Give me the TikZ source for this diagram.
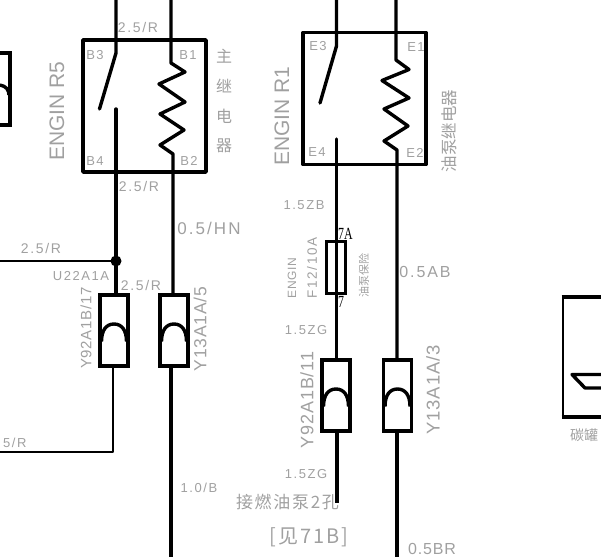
\documentclass[tikz,border=0pt]{standalone}
\usepackage{fontspec}
\setmainfont{Liberation Sans}
\newfontfamily\lblf[LetterSpace=12]{Liberation Sans}
\newfontfamily\lblg[LetterSpace=5]{Liberation Sans}
\newfontfamily\lblh{Liberation Sans}
\newfontfamily\cjkf{Noto Sans CJK SC}
\newfontfamily\cjks[LetterSpace=10]{Noto Sans CJK SC}
\newfontfamily\serf{Liberation Serif}
\definecolor{lbl}{HTML}{A0A0A0}
\tikzset{
  wire/.style={line width=3.4pt,black},
  thinwire/.style={line width=2.4pt,black},
  relaybox/.style={draw=black,line width=3.8pt,inner sep=0pt,outer sep=0pt,minimum width=123pt,minimum height=132pt,line join=round},
  connbox/.style={draw=black,line width=3.4pt,inner sep=0pt,outer sep=0pt,minimum width=28pt,minimum height=71pt},
  fusebox/.style={draw=black,line width=3pt,inner sep=0pt,outer sep=0pt,minimum width=19pt,minimum height=52pt},
  txt/.style={inner sep=0pt,outer sep=0pt,text=lbl,font=\lblf\fontsize{#1}{#1}\selectfont},
  txtm/.style={inner sep=0pt,outer sep=0pt,text=lbl,font=\lblg\fontsize{#1}{#1}\selectfont},
  txtn/.style={inner sep=0pt,outer sep=0pt,text=lbl,font=\lblh\fontsize{#1}{#1}\selectfont},
  cjk/.style={inner sep=0pt,outer sep=0pt,text=lbl,font=\cjkf\fontsize{#1}{#1}\selectfont},
  cjksp/.style={inner sep=0pt,outer sep=0pt,text=lbl,font=\cjks\fontsize{#1}{#1}\selectfont},
  blk/.style={inner sep=0pt,outer sep=0pt,text=black,xscale=.7,font=\serf\fontsize{#1}{#1}\selectfont},
}
\newcommand{\plugshape}[1]{%
  \begin{scope}[shift={(#1.center)}]
  \draw[wire] (-12.5,11) .. controls (-12.5,0) and (-8,-6.5) .. (0,-6.5) .. controls (8,-6.5) and (12.5,0) .. (12.5,11);
  \end{scope}}
\begin{document}
\begin{tikzpicture}[x=1pt,y=-1pt]
\useasboundingbox (0,0) rectangle (601,557);
\begin{scope}
\clip (0,0) rectangle (601,557);
% relay boxes
\node[relaybox] (r5) at (144.5,106) {};
\node[relaybox] (r1) at (364.5,98.5) {};
% connector bodies
\node[connbox] (c1) at (114,330.5) {};
\node[connbox] (c2) at (174,330.5) {};
\node[connbox] (c3) at (336,395.5) {};
\node[connbox] (c4) at (397.5,395.5) {};
\node[connbox,minimum height=72pt] (c0) at (-4,89) {};
\plugshape{c1}\plugshape{c2}\plugshape{c3}\plugshape{c4}
\draw[wire] (0,85) .. controls (6,86) and (9,90) .. (9,95);
% fuse
\node[fusebox] (fu) at (335.5,267) {};
% named points
\coordinate (t1) at (116,0);
\coordinate (s1) at (116,53);
\coordinate (s1e) at (99.5,109);
\coordinate (s1b) at (116,109);
\coordinate (jn) at (116,261);
\coordinate (t2) at (171,0);
\coordinate (l1) at (0,261);
\coordinate (l2) at (0,452);
\coordinate (t3) at (336.5,0);
\coordinate (s3) at (336.5,46);
\coordinate (s3e) at (320,103);
\coordinate (s3b) at (336.5,139);
\coordinate (t4) at (396,0);
\coordinate (e5) at (337,503);
\coordinate (e6) at (397,557);
\coordinate (e7) at (171,557);
% left relay
\draw[wire,line join=round,line cap=round] (t1) -- (s1) -- (s1e);
\draw[wire,line cap=round] (s1b) -- (jn) -- (jn |- c1.north);
\draw[wire,line join=round] (t2) -- (171,63) -- (185,72) -- (159,84) -- (185,102) -- (160,114) -- (184,130) -- (160,145) -- (173,154) -- (173,172 |- c2.north);
% right relay
\draw[wire,line join=round,line cap=round] (t3) -- (s3) -- (s3e);
\draw[wire,line cap=round] (s3b) -- (s3b |- c3.north);
\draw[wire,line join=round] (t4) -- (396,60) -- (409,69.5) -- (382,80.5) -- (409,98) -- (384,109) -- (408,126) -- (384,141) -- (397,150) -- (397,150 |- c4.north);
% other wires
\draw[thinwire] (l1) -- (jn);
\fill (jn) circle (5.5pt);
\draw[thinwire,line join=round] (113,366 |- c1.south) -- (113,452) -- (l2);
\draw[wire] (e7 |- c2.south) -- (e7);
\draw[wire] (e5 |- c3.south) -- (e5);
\draw[wire] (e6 |- c4.south) -- (e6);
% right partial box
\coordinate (bt) at (563,297);
\coordinate (bb) at (563,417);
\draw[thinwire] (bt) -- (bb);
\draw[line width=3.8pt] (561.5,297) -- (601,297);
\draw[line width=3.8pt] (561.5,417) -- (601,417);
\draw[wire,line join=round] (601,374.5) -- (572,374.5) -- (585,388) -- (601,388);
% labels
\node[txt=14] (n1) at (138,27) {2.5/R};
\node[txt=14] (n2) at (139,186) {2.5/R};
\node[txt=14] (n3) at (41,248) {2.5/R};
\node[txt=14] (n4) at (141,285) {2.5/R};
\node[txt=13,anchor=east] (n5) at (26.5,443) {5/R};
\node[txt=13] (b3) at (95,55) {B3};
\node[txt=13] (b1) at (188,55) {B1};
\node[txt=13] (b4) at (95,161) {B4};
\node[txt=13] (b2) at (189,161) {B2};
\node[txtn=21,rotate=90] (en5) at (57,111) {ENGIN R5};
\node[cjk=16] (z1) at (224,56) {主};
\node[cjk=16] (z2) at (224,86) {继};
\node[cjk=16] (z3) at (224,116) {电};
\node[cjk=16] (z4) at (224,146) {器};
\node[txt=17] (hn) at (209,228) {0.5/HN};
\node[txt=13] (u22) at (81,276) {U22A1A};
\node[txtm=15,rotate=90] (y17) at (86,328) {Y92A1B/17};
\node[txtm=17.5,rotate=90] (y5) at (200,329) {Y13A1A/5};
\node[txt=13] (b10) at (199,488) {1.0/B};
\node[txt=13] (e3) at (318,46) {E3};
\node[txt=13] (e1) at (416,47) {E1};
\node[txt=13] (e4) at (317,152) {E4};
\node[txt=13] (e2) at (415,153) {E2};
\node[txtn=21,rotate=90] (en1) at (282,116) {ENGIN R1};
\node[cjk=16.5,rotate=90] (yb) at (449,131) {油泵继电器};
\node[txt=13] (zb) at (304,205) {1.5ZB};
\node[txtm=12,rotate=90] (eng) at (292,278) {ENGIN};
\node[txt=13.5,rotate=90] (f12) at (312,268) {F12/10A};
\node[cjk=11,rotate=90] (yx) at (364,275) {油泵保险};
\node[blk=17] (a7) at (345.5,233.5) {7A};
\node[blk=17] (b7) at (341,301.5) {7};
\node[txt=16] (ab) at (425,272) {0.5AB};
\node[txt=13] (zg1) at (306,330) {1.5ZG};
\node[txtm=18,rotate=90] (y11) at (307,400) {Y92A1B/11};
\node[txtm=18.5,rotate=90] (y3) at (433,390) {Y13A1A/3};
\node[txt=13] (zg2) at (306,474) {1.5ZG};
\node[cjksp=17] (jr) at (287.5,502) {接燃油泵2孔};
\node[cjksp=20] (jb) at (309,537) {[见71B]};
\node[txtm=16] (br) at (432,549) {0.5BR};
\node[cjk=14] (tg) at (584,435) {碳罐};
\end{scope}
\end{tikzpicture}
\end{document}
